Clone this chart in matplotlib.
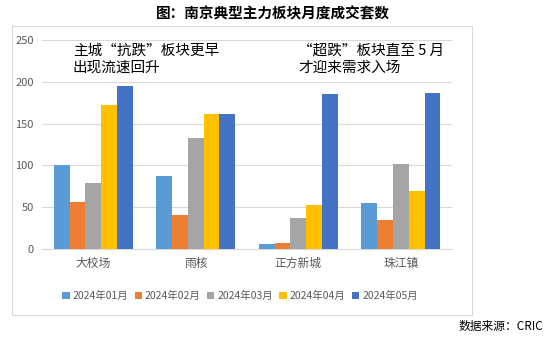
import matplotlib.pyplot as plt
import numpy as np
from matplotlib.patches import Rectangle

plt.rcParams['font.family'] = ['Noto Sans CJK SC', 'DejaVu Sans']

# 数据
areas = ['大校场', '雨核', '正方新城', '珠江镇']
months = ['2024年01月', '2024年02月', '2024年03月', '2024年04月', '2024年05月']
m01 = [100, 87, 6, 55]
m02 = [56, 40, 7, 35]
m03 = [79, 133, 37, 102]
m04 = [172, 162, 53, 69]
m05 = [195, 161, 186, 187]
series = [m01, m02, m03, m04, m05]
colors = ['#5B9BD5', '#ED7D31', '#A5A5A5', '#FFC000', '#4472C4']

fig = plt.figure(figsize=(5.46, 3.40), dpi=100)
ax = fig.add_axes([0.077, 0.268, 0.751, 0.614])

# 图表外框
fig.patches.append(Rectangle((12 / 546, 1 - 315 / 340), 460 / 546, 289 / 340,
                             transform=fig.transFigure, fill=False,
                             edgecolor='#D9D9D9', linewidth=0.8))

x = np.arange(len(areas))
w = 0.154
for i, vals in enumerate(series):
    ax.bar(x + (i - 2) * w, vals, w, color=colors[i], label=months[i], zorder=3)

ax.set_xlim(-0.5, 3.5)
ax.set_ylim(0, 250)
ax.set_yticks(range(0, 251, 50))
ax.set_xticks(x)
ax.set_xticklabels(areas, fontsize=8.5)
ax.grid(axis='y', color='#D9D9D9', linewidth=0.8, zorder=0)
for s in ['top', 'right', 'left']:
    ax.spines[s].set_visible(False)
ax.spines['bottom'].set_color('#D9D9D9')
ax.tick_params(length=0, labelsize=8, colors='#595959', pad=6)
ax.tick_params(axis='x', labelsize=8.5)

ax.text(-0.2, 246, '主城“抗跌”板块更早\n出现流速回升', fontsize=10.5,
        va='top', ha='left', linespacing=1.3, color='#000000')
ax.text(2.0, 246, '“超跌”板块直至 5 月\n才迎来需求入场', fontsize=10.5,
        va='top', ha='left', linespacing=1.3, color='#000000')

fig.legend(loc='center', bbox_to_anchor=(240 / 546, 1 - 296 / 340), ncol=5,
           frameon=False, fontsize=7.5, handlelength=0.7, handleheight=0.7,
           handletextpad=0.3, columnspacing=0.6, labelcolor='#595959')

fig.text(0.5, 1 - 13 / 340, '图：南京典型主力板块月度成交套数', ha='center',
         va='center', fontsize=10.5, fontweight='bold')
fig.text(0.995, 1 - 326 / 340, '数据来源：CRIC', ha='right', va='center',
         fontsize=8.5)

fig.savefig('out.png', dpi=100)
